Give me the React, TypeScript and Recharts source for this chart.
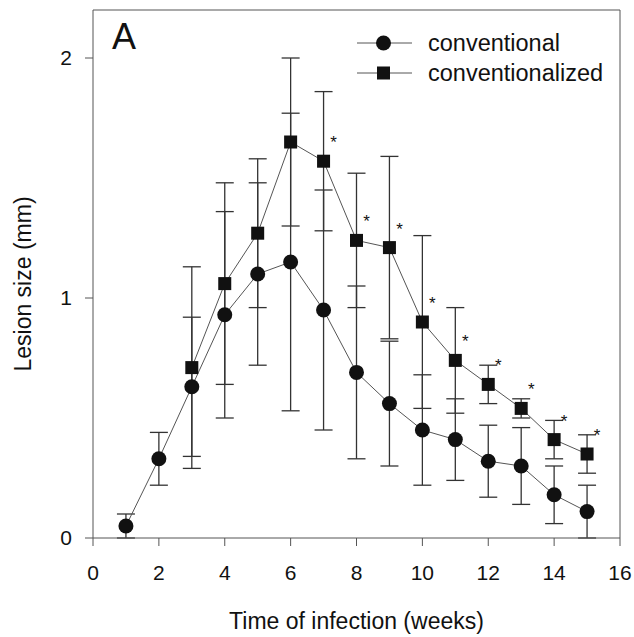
import { LineChart, Line, XAxis, YAxis, ErrorBar, ReferenceLine, LabelList } from 'recharts';

const convWeeks = [1, 2, 3, 4, 5, 6, 7, 8, 9, 10, 11, 12, 13, 14, 15];
const convValues = [0.05, 0.33, 0.63, 0.93, 1.1, 1.15, 0.95, 0.69, 0.56, 0.45, 0.41, 0.32, 0.3, 0.18, 0.11];
const convErrors = [0.05, 0.11, 0.29, 0.43, 0.38, 0.62, 0.5, 0.36, 0.26, 0.23, 0.17, 0.15, 0.16, 0.12, 0.11];

const czWeeks = [3, 4, 5, 6, 7, 8, 9, 10, 11, 12, 13, 14, 15];
const czValues = [0.71, 1.06, 1.27, 1.65, 1.57, 1.24, 1.21, 0.9, 0.74, 0.64, 0.54, 0.41, 0.35];
const czErrors = [0.42, 0.42, 0.31, 0.35, 0.29, 0.28, 0.38, 0.36, 0.22, 0.08, 0.04, 0.08, 0.08];
const czSignificant = [false, false, false, false, true, true, true, true, true, true, true, true, true];

const xTicks = [0, 2, 4, 6, 8, 10, 12, 14, 16];
const yTicks = [0, 1, 2];

const FONT = '"Liberation Sans", Arial, sans-serif';
const INK = '#111';
const LINE = '#555';

const convData = convWeeks.map((w, i) => ({ week: w, value: convValues[i], err: convErrors[i] }));
const czData = czWeeks.map((w, i) => ({
  week: w,
  value: czValues[i],
  err: czErrors[i],
  sig: czSignificant[i] ? '*' : '',
}));

function CircleDot(props: any) {
  const { cx, cy, index } = props;
  return <circle key={`c${index}`} cx={cx} cy={cy} r={7.5} fill={INK} />;
}

function SquareDot(props: any) {
  const { cx, cy, index } = props;
  return <rect key={`s${index}`} x={cx - 6.5} y={cy - 6.5} width={13} height={13} fill={INK} />;
}

function Star(props: any) {
  const { x, y, value } = props;
  if (!value) return null;
  return (
    <text x={x + 10} y={y - 13} fontSize={17} fontFamily={FONT} fill={INK} textAnchor="middle">
      {value}
    </text>
  );
}

// axis titles placed from the axis viewBox
function XTitle(props: any) {
  const { viewBox } = props;
  return (
    <text x={viewBox.x + viewBox.width / 2} y={629} textAnchor="middle" fontSize={23} fontFamily={FONT} fill={INK}>
      Time of infection (weeks)
    </text>
  );
}

function YTitle(props: any) {
  const { viewBox } = props;
  const cx = 31;
  const cy = viewBox.y + viewBox.height / 2 + 10;
  return (
    <text x={cx} y={cy} transform={`rotate(-90, ${cx}, ${cy})`} textAnchor="middle" fontSize={23} fontFamily={FONT} fill={INK}>
      Lesion size (mm)
    </text>
  );
}

function LegendBox() {
  const rows = [
    { label: 'conventional', square: false },
    { label: 'conventionalized', square: true },
  ];
  return (
    <div style={{ position: 'absolute', left: 357, top: 28, fontFamily: FONT, fontSize: 23.5, color: INK }}>
      {rows.map((r) => (
        <div key={r.label} style={{ display: 'flex', alignItems: 'center', height: 30 }}>
          <svg width={71} height={20}>
            <line x1={0} y1={10} x2={55} y2={10} stroke={LINE} strokeWidth={1} />
            {r.square ? (
              <rect x={20} y={3.5} width={13} height={13} fill={INK} />
            ) : (
              <circle cx={26.5} cy={10} r={7.5} fill={INK} />
            )}
          </svg>
          <span>{r.label}</span>
        </div>
      ))}
    </div>
  );
}

export default function App() {
  return (
    <div style={{ position: 'absolute', left: 0, top: 0, width: 634, height: 637, background: '#fff' }}>
      <LineChart width={634} height={637} margin={{ top: 10, right: 14, bottom: 0, left: 0 }}>
        <XAxis
          dataKey="week"
          type="number"
          domain={[0, 16]}
          ticks={xTicks}
          allowDuplicatedCategory={false}
          stroke={LINE}
          tickSize={8}
          tickMargin={19}
          height={99}
          tick={{ fill: INK, fontSize: 21, fontFamily: FONT }}
          label={<XTitle />}
        />
        <YAxis
          type="number"
          domain={[0, 2.2]}
          allowDataOverflow
          ticks={yTicks}
          stroke={LINE}
          width={93}
          tickSize={8}
          tickMargin={13}
          tick={{ fill: INK, fontSize: 21, fontFamily: FONT }}
          label={<YTitle />}
        />
        <ReferenceLine y={2.2} stroke={LINE} ifOverflow="visible" />
        <ReferenceLine x={16} stroke={LINE} ifOverflow="visible" />
        <Line
          data={czData}
          dataKey="value"
          name="conventionalized"
          stroke={LINE}
          strokeWidth={1}
          dot={SquareDot}
          isAnimationActive={false}
        >
          <ErrorBar dataKey="err" width={9} stroke="#333" strokeWidth={1.3} />
          <LabelList dataKey="sig" content={Star} />
        </Line>
        <Line
          data={convData}
          dataKey="value"
          name="conventional"
          stroke={LINE}
          strokeWidth={1}
          dot={CircleDot}
          isAnimationActive={false}
        >
          <ErrorBar dataKey="err" width={9} stroke="#333" strokeWidth={1.3} />
        </Line>
      </LineChart>
      <LegendBox />
      <div style={{ position: 'absolute', left: 112, top: 16, fontFamily: FONT, fontSize: 36, color: INK }}>A</div>
    </div>
  );
}
